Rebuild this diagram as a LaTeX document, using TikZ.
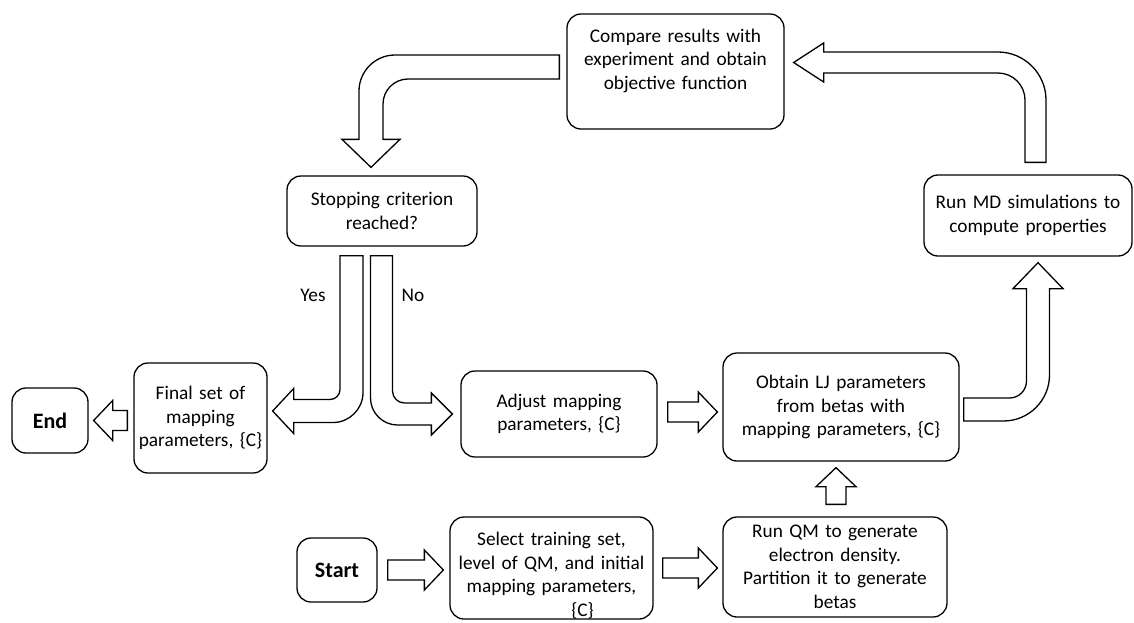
\documentclass[tikz,border=0pt]{standalone}
\usepackage{fontspec}
\setmainfont{Carlito}
\usepackage{tikz}
\usetikzlibrary{calc}

% sizes of the hollow block arrows
\newcommand{\arrshaft}{10}
\newcommand{\arrhead}{20}
\newcommand{\arrlen}{19}

% #1 tail, #2 tip, #3/#4 direction
\newcommand{\straightarrow}[4]{%
  \draw[bigarrow]
    ($(#1)+({-(#4)*\arrshaft},{(#3)*\arrshaft})$)
    -- ($(#2)+({-(#3)*\arrlen-(#4)*\arrshaft},{-(#4)*\arrlen+(#3)*\arrshaft})$)
    -- ($(#2)+({-(#3)*\arrlen-(#4)*\arrhead},{-(#4)*\arrlen+(#3)*\arrhead})$)
    -- (#2)
    -- ($(#2)+({-(#3)*\arrlen+(#4)*\arrhead},{-(#4)*\arrlen-(#3)*\arrhead})$)
    -- ($(#2)+({-(#3)*\arrlen+(#4)*\arrshaft},{-(#4)*\arrlen-(#3)*\arrshaft})$)
    -- ($(#1)+({(#4)*\arrshaft},{-(#3)*\arrshaft})$)
    -- cycle;}

% #1 tail, #2 corner, #3 tip, #4/#5 first leg, #6/#7 second leg, #8 inner radius, #9 outer radius
\newcommand{\bentarrow}[9]{%
  \draw[bigarrow]
    ($(#1)+({(#6)*\arrshaft},{(#7)*\arrshaft})$)
    -- ($(#2)+({((#6)-(#4))*\arrshaft-(#4)*#8},{((#7)-(#5))*\arrshaft-(#5)*#8})$)
    .. controls ($(#2)+({((#6)-(#4))*\arrshaft-0.45*(#4)*#8},{((#7)-(#5))*\arrshaft-0.45*(#5)*#8})$)
    and ($(#2)+({((#6)-(#4))*\arrshaft+0.45*(#6)*#8},{((#7)-(#5))*\arrshaft+0.45*(#7)*#8})$)
    .. ($(#2)+({((#6)-(#4))*\arrshaft+(#6)*#8},{((#7)-(#5))*\arrshaft+(#7)*#8})$)
    -- ($(#3)+({-(#6)*\arrlen-(#4)*\arrshaft},{-(#7)*\arrlen-(#5)*\arrshaft})$)
    -- ($(#3)+({-(#6)*\arrlen-(#4)*\arrhead},{-(#7)*\arrlen-(#5)*\arrhead})$)
    -- (#3)
    -- ($(#3)+({-(#6)*\arrlen+(#4)*\arrhead},{-(#7)*\arrlen+(#5)*\arrhead})$)
    -- ($(#3)+({-(#6)*\arrlen+(#4)*\arrshaft},{-(#7)*\arrlen+(#5)*\arrshaft})$)
    -- ($(#2)+({((#4)-(#6))*\arrshaft+(#6)*#9},{((#5)-(#7))*\arrshaft+(#7)*#9})$)
    .. controls ($(#2)+({((#4)-(#6))*\arrshaft+0.45*(#6)*#9},{((#5)-(#7))*\arrshaft+0.45*(#7)*#9})$)
    and ($(#2)+({((#4)-(#6))*\arrshaft-0.45*(#4)*#9},{((#5)-(#7))*\arrshaft-0.45*(#5)*#9})$)
    .. ($(#2)+({((#4)-(#6))*\arrshaft-(#4)*#9},{((#5)-(#7))*\arrshaft-(#5)*#9})$)
    -- ($(#1)+({-(#6)*\arrshaft},{-(#7)*\arrshaft})$)
    -- cycle;}

\begin{document}
\begin{tikzpicture}[
    x=1pt, y=-1pt,
    box/.style={
      draw, rounded corners=14pt, line width=1.3pt,
      align=center, inner sep=0pt,
      font=\fontsize{19.3pt}{23.5pt}\selectfont
    },
    termbox/.style={box, font=\fontsize{22pt}{26pt}\selectfont\bfseries},
    answer/.style={font=\fontsize{19.3pt}{23.5pt}\selectfont},
    bigarrow/.style={draw, fill=white, line width=1.3pt, line join=miter}
  ]

  \useasboundingbox (0,0) rectangle (1134,622);

  \node[termbox, minimum width=80pt, minimum height=64pt] (start) at (337,570) {Start};

  \node[box, minimum width=203pt, minimum height=102pt, text width=197pt] (select) at (551.5,568)
    {\rule{0pt}{28.5pt}Select training set,\\level of QM, and initial\\mapping parameters,\\ \hspace*{62pt}\{C\}};

  \node[box, minimum width=224pt, minimum height=100pt, text width=218pt] (qm) at (835,567)
    {Run QM to generate\\electron density.\\Partition it to generate\\betas};

  \node[box, minimum width=236pt, minimum height=108pt, text width=230pt] (lj) at (841,407)
    {Obtain LJ parameters\\from betas with\\mapping parameters, \{C\}};

  \node[box, minimum width=208pt, minimum height=81pt, text width=202pt] (md) at (1028,215.5)
    {Run MD simulations to\\compute properties};

  \node[box, minimum width=217pt, minimum height=115pt, text width=211pt] (compare) at (675.5,71.5)
    {Compare results with\\experiment and obtain\\objective function\rule[-25pt]{0pt}{0pt}};

  \node[box, minimum width=190pt, minimum height=70pt, text width=184pt] (stop) at (382,211)
    {Stopping criterion\\reached?};

  \node[box, minimum width=196pt, minimum height=86pt, text width=190pt] (adjust) at (559,414)
    {Adjust mapping\\parameters, \{C\}};

  \node[box, minimum width=133pt, minimum height=110pt, text width=127pt] (final) at (200.5,418)
    {Final set of\\mapping\\parameters, \{C\}};

  \node[termbox, minimum width=76pt, minimum height=65pt] (endn) at (50,420.5) {End};

  \node[answer] (yes) at (313,295) {Yes};
  \node[answer] (no) at (413,295) {No};

  % straight arrows
  \coordinate (toselect) at ($(start.east)+(10,0)$);
  \coordinate (atselect) at ($(select.west |- start.east)+(-6,0)$);
  \straightarrow{toselect}{atselect}{1}{0}

  \coordinate (toqm) at ($(select.east)+(9,0)$);
  \coordinate (atqm) at ($(qm.west |- select.east)+(-5,0)$);
  \straightarrow{toqm}{atqm}{1}{0}

  \coordinate (tolj) at ($(qm.north)+(1,-12)$);
  \coordinate (atlj) at ($(qm.north |- lj.south)+(1,6)$);
  \straightarrow{tolj}{atlj}{0}{-1}

  \coordinate (fromadjust) at ($(adjust.east)+(10,-2)$);
  \coordinate (atljleft) at ($(lj.west |- adjust.east)+(-5,-2)$);
  \straightarrow{fromadjust}{atljleft}{1}{0}

  \coordinate (toend) at ($(final.west |- endn.east)+(-6,0)$);
  \coordinate (atend) at ($(endn.east)+(5,0)$);
  \straightarrow{toend}{atend}{-1}{0}

  % bent arrows
  \renewcommand{\arrshaft}{12}\renewcommand{\arrhead}{29}\renewcommand{\arrlen}{28}
  \coordinate (cmptail) at ($(compare.west)+(-7,-4.5)$);
  \coordinate (cmptip) at ($(stop.north)+(-11,-8)$);
  \coordinate (cmpbend) at (cmptip |- cmptail);
  \bentarrow{cmptail}{cmpbend}{cmptip}{-1}{0}{0}{1}{25}{36}

  \renewcommand{\arrshaft}{10.5}\renewcommand{\arrhead}{19.5}\renewcommand{\arrlen}{30}
  \coordinate (mdtail) at ($(md.north)+(7.5,-12)$);
  \coordinate (mdtip) at ($(compare.east)+(9,-9)$);
  \coordinate (mdbend) at (mdtail |- mdtip);
  \bentarrow{mdtail}{mdbend}{mdtip}{0}{-1}{-1}{0}{27}{48}

  \renewcommand{\arrshaft}{11.5}\renewcommand{\arrhead}{25}\renewcommand{\arrlen}{26}
  \coordinate (ljtail) at ($(lj.east)+(4,2.5)$);
  \coordinate (ljtip) at ($(md.south)+(10,6)$);
  \coordinate (ljbend) at (ljtip |- ljtail);
  \bentarrow{ljtail}{ljbend}{ljtip}{1}{0}{0}{-1}{17}{46}

  \renewcommand{\arrshaft}{11.5}\renewcommand{\arrhead}{22.5}\renewcommand{\arrlen}{21}
  \coordinate (yestail) at ($(stop.south)+(-30.5,9)$);
  \coordinate (yestip) at ($(final.east)+(5,-7)$);
  \coordinate (yesbend) at (yestail |- yestip);
  \bentarrow{yestail}{yesbend}{yestip}{0}{1}{-1}{0}{10}{30}

  \renewcommand{\arrshaft}{11}\renewcommand{\arrhead}{21}\renewcommand{\arrlen}{21}
  \coordinate (notail) at ($(stop.south)+(-0.5,9)$);
  \coordinate (notip) at ($(adjust.west)+(-8,0)$);
  \coordinate (nobend) at (notail |- notip);
  \bentarrow{notail}{nobend}{notip}{0}{1}{1}{0}{12}{27}

\end{tikzpicture}
\end{document}
